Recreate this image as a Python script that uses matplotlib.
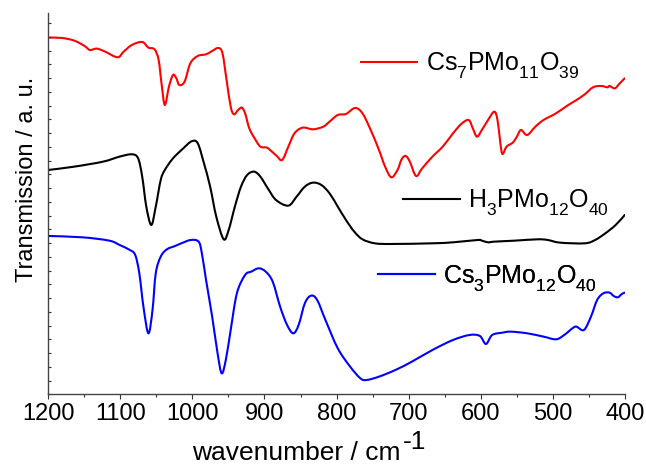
import matplotlib
matplotlib.use("Agg")
import numpy as np
import matplotlib.pyplot as plt
from matplotlib.path import Path
from matplotlib.patches import PathPatch
from matplotlib.lines import Line2D
from matplotlib.ticker import MultipleLocator, NullFormatter

try:
    import matplotlib._mathtext as _mt
    _mt.FontConstantsBase.sub1 = 0.6
except Exception:
    pass

plt.rcParams['font.family'] = ['Liberation Sans', 'DejaVu Sans']
plt.rcParams['mathtext.fontset'] = 'custom'
plt.rcParams['mathtext.rm'] = 'Liberation Sans'
plt.rcParams['mathtext.it'] = 'Liberation Sans:italic'
plt.rcParams['mathtext.default'] = 'regular'

# ---- data (wavenumber in cm^-1, transmission in a.u., curves offset) ----
red_wn = [1200, 1181.1, 1164.0, 1149.7, 1142.3, 1132.6, 1121.1, 1104.0, 1095.4, 1084.0,
          1069.7, 1061.1, 1052.6, 1046.9, 1042.9, 1038.3, 1032.6, 1026.9, 1022.3, 1018.3,
          1010.9, 1002.9, 992.6, 981.1, 972.6, 964.0, 958.3, 952.6, 946.9, 942.3,
          936.6, 931.4, 926.9, 921.1, 913.7, 905.7, 896.6, 889.7, 882.9, 875.4,
          866.9, 858.3, 846.9, 832.6, 818.3, 809.7, 798.3, 786.9, 774.3, 764.0,
          752.6, 741.1, 732.6, 724.0, 715.4, 709.7, 704.0, 698.3, 689.7, 681.1,
          666.9, 652.6, 638.3, 626.9, 616.6, 610.9, 605.1, 598.3, 589.7, 581.1,
          576.6, 572.6, 569.7, 564.0, 555.4, 549.7, 544.0, 535.4, 524.0, 512.6,
          495.4, 478.3, 466.9, 455.4, 444.0, 432.6, 424.0, 421.1, 413.7, 406.9, 400.0]
red_t = [107.0, 106.9, 106.1, 104.5, 103.3, 103.7, 102.8, 101.1, 102.8, 104.8,
         105.7, 104.0, 103.5, 100.3, 93.3, 86.8, 92.3, 95.8, 94.8, 92.8,
         93.8, 99.3, 101.5, 102.0, 103.0, 103.9, 102.3, 94.3, 86.3, 84.0,
         85.3, 86.0, 84.3, 79.8, 76.8, 74.3, 74.0, 72.8, 71.5, 70.3,
         74.3, 78.3, 80.0, 79.5, 80.3, 81.8, 83.8, 84.1, 85.9, 84.3,
         79.3, 73.3, 68.3, 65.1, 67.3, 70.5, 71.5, 69.8, 65.5, 67.8,
         71.3, 74.3, 78.3, 81.1, 82.3, 79.8, 77.3, 79.3, 82.3, 84.8,
         82.3, 75.3, 72.1, 74.3, 75.5, 77.3, 79.3, 77.8, 80.3, 82.3,
         84.3, 86.8, 88.3, 90.0, 92.1, 92.5, 92.1, 92.5, 91.8, 93.3, 94.8]

black_wn = [1200, 1164.0, 1124.0, 1101.1, 1084.0, 1075.4, 1069.7, 1064.0, 1057.1, 1050.9,
            1044.0, 1038.3, 1026.9, 1012.6, 1001.1, 992.6, 984.0, 975.4, 966.9, 956.6,
            949.7, 941.1, 932.6, 924.0, 914.3, 905.7, 895.4, 884.0, 866.9, 855.4,
            844.0, 832.6, 821.1, 809.7, 798.3, 786.9, 775.4, 764.0, 746.9, 724.0,
            666.9, 638.3, 604.0, 598.3, 589.7, 581.1, 552.6, 521.1, 506.9, 489.7,
            455.4, 441.1, 426.9, 412.6, 400.0]
black_t = [67.3, 68.3, 69.8, 71.3, 72.0, 70.8, 65.3, 56.3, 50.8, 56.3,
           64.3, 67.3, 70.8, 73.8, 75.9, 75.3, 69.3, 62.3, 53.3, 46.5,
           49.3, 56.3, 62.3, 65.8, 66.8, 65.3, 61.8, 58.3, 56.6, 59.3,
           62.3, 63.5, 62.8, 60.3, 56.3, 52.3, 48.8, 46.5, 45.3, 45.1,
           45.3, 45.6, 46.3, 46.1, 45.6, 45.8, 46.1, 46.5, 46.3, 45.5,
           45.3, 46.3, 48.3, 50.8, 53.8]

blue_wn = [1200, 1152.6, 1115.4, 1101.1, 1086.9, 1079.4, 1073.7, 1068.0, 1061.1, 1055.4,
           1050.9, 1044.0, 1035.4, 1024.0, 1015.4, 1002.3, 991.4, 986.9, 981.1, 972.6,
           965.1, 959.4, 953.7, 946.9, 938.3, 926.9, 918.3, 908.0, 898.3, 888.6,
           878.3, 868.6, 860.0, 852.6, 844.0, 835.4, 826.9, 815.4, 798.3, 781.1,
           766.9, 758.3, 741.1, 718.3, 695.4, 666.9, 638.3, 615.4, 601.1, 592.6,
           584.0, 569.7, 558.3, 535.4, 512.6, 495.4, 484.0, 472.6, 466.9, 456.6,
           446.9, 438.3, 429.7, 421.1, 415.4, 409.7, 404.0, 400.0]
blue_t = [47.5, 47.1, 46.1, 44.8, 43.3, 41.8, 36.3, 26.3, 18.3, 25.3,
          36.3, 41.3, 43.5, 44.5, 45.3, 46.3, 45.8, 42.3, 34.3, 23.3,
          12.3, 6.3, 10.3, 19.3, 30.3, 35.8, 36.8, 37.8, 36.8, 33.8,
          26.3, 20.8, 18.3, 20.8, 27.3, 29.6, 28.3, 22.3, 13.8, 8.3,
          4.8, 4.3, 5.3, 7.3, 9.8, 13.3, 16.3, 17.8, 17.5, 15.1,
          17.8, 18.5, 18.8, 18.3, 17.3, 16.5, 17.8, 19.8, 20.3, 19.3,
          23.3, 28.3, 30.3, 30.5, 29.5, 29.1, 30.1, 30.5]

series_labels = [r'Cs$_7$PMo$_{11}$O$_{39}$',
                 r'H$_3$PMo$_{12}$O$_{40}$',
                 r'Cs$_3$PMo$_{12}$O$_{40}$']
series_colors = ['#ff0000', '#000000', '#0000ff']
xticks = [1200, 1100, 1000, 900, 800, 700, 600, 500, 400]


def smooth_path(x, y):
    """Catmull-Rom curve through the measured points, as cubic Bezier segments."""
    p = np.column_stack([x, y]).astype(float)
    pp = np.vstack([p[0], p, p[-1]])
    verts = [p[0]]
    codes = [Path.MOVETO]
    for i in range(1, len(pp) - 2):
        p0, p1, p2, p3 = pp[i - 1], pp[i], pp[i + 1], pp[i + 2]
        c1 = p1 + (p2 - p0) / 6.0
        c2 = p2 - (p3 - p1) / 6.0
        verts += [c1, c2, p2]
        codes += [Path.CURVE4] * 3
    return Path(verts, codes)


# ---- figure ----
fig = plt.figure(figsize=(6.46, 4.65), dpi=100)
ax = fig.add_axes([0.0748, 0.152, 0.8923, 0.8194])

handles = []
for wn, t, c in zip([red_wn, black_wn, blue_wn], [red_t, black_t, blue_t], series_colors):
    patch = PathPatch(smooth_path(wn, t), facecolor='none', edgecolor=c, lw=1.5,
                      joinstyle='round', capstyle='round', transform=ax.transData)
    ax.add_patch(patch)
    handles.append(Line2D([], [], color=c, lw=1.5))

ax.set_xlim(1200, 400)
ax.set_ylim(0, 114.3)
ax.set_xticks(xticks)
ax.set_xticklabels([str(v) for v in xticks])
ax.xaxis.set_minor_locator(MultipleLocator(50))
ax.yaxis.set_major_locator(MultipleLocator(4.125))
ax.yaxis.set_major_formatter(NullFormatter())
ax.tick_params(axis='x', which='major', direction='out', length=3.6, width=0.8,
               labelsize=17, pad=3, color='#333333')
ax.tick_params(axis='x', which='minor', direction='out', length=2, width=0.8, color='#333333')
ax.tick_params(axis='y', which='major', direction='in', length=2, width=0.8, color='#333333')

for s in ['top', 'right']:
    ax.spines[s].set_visible(False)
for s in ['left', 'bottom']:
    ax.spines[s].set_color('#444444')
    ax.spines[s].set_linewidth(1.0)

# separate legend entries placed next to each curve
anchors = [(0.5588, 0.858), (0.6243, 0.5628), (0.5856, 0.4015)]
for h, lab, anc in zip(handles, series_labels, anchors):
    lg = ax.legend([h], [lab], loc='center left', bbox_to_anchor=anc,
                   bbox_transform=fig.transFigure, frameon=False, fontsize=18,
                   borderpad=0, borderaxespad=0, handlelength=2.25, handletextpad=0.35)
    ax.add_artist(lg)

fig.text(0.2966, 0.011, 'wavenumber / cm', fontsize=19, ha='left', va='baseline')
fig.text(0.624, 0.0336, '-1', fontsize=19, ha='left', va='baseline')
fig.text(0.0516, 0.614, 'Transmission / a. u.', fontsize=17, rotation=90,
         rotation_mode='anchor', ha='center', va='baseline')

fig.savefig('out.png', dpi=100)
